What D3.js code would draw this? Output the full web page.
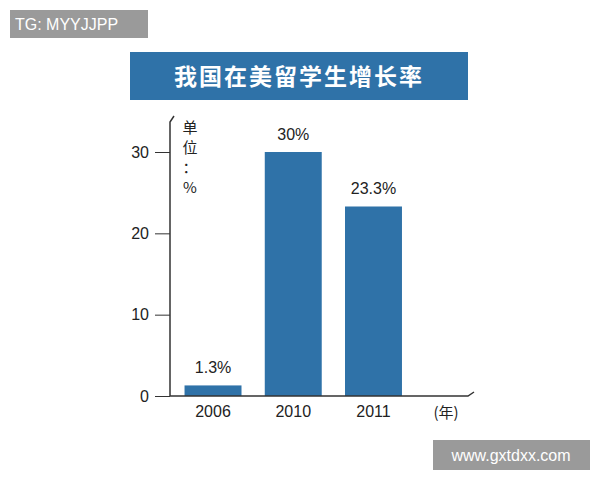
<!DOCTYPE html>
<html>
<head>
<meta charset="utf-8">
<script src="https://cdn.jsdelivr.net/npm/d3@7"></script>
<style>
body{margin:0;background:#fff;}
text{font-family:"Liberation Sans",Arial,sans-serif;}
</style>
</head>
<body>
<svg id="chart" width="600" height="480"></svg>
<script>
// data
const years = ['2006', '2010', '2011'];
const rates = [1.3, 30, 23.3];
const rateLabels = ['1.3%', '30%', '23.3%'];
const yTicks = [0, 10, 20, 30];

const svg = d3.select('#chart');
const blue = '#2f72a8';

// watermark boxes
svg.append('rect').attr('x', 10).attr('y', 10).attr('width', 138).attr('height', 28).attr('fill', '#9a9a9a');
svg.append('text').attr('x', 15).attr('y', 30).attr('fill', '#fff').attr('font-size', 16).text('TG: MYYJJPP');
svg.append('rect').attr('x', 433).attr('y', 440).attr('width', 157).attr('height', 30).attr('fill', '#9a9a9a');
svg.append('text').attr('x', 511).attr('y', 461).attr('text-anchor', 'middle').attr('fill', '#fff').attr('font-size', 16).text('www.gxtdxx.com');

// title banner
svg.append('rect').attr('x', 130).attr('y', 52).attr('width', 338).attr('height', 48).attr('fill', blue);
svg.append('text').attr('x', 299).attr('y', 85).attr('text-anchor', 'middle').attr('fill', '#fff')
    .attr('font-size', 23).attr('font-weight', 'bold').style('font-family', '"Noto Sans CJK SC"')
    .attr('letter-spacing', 2).text('我国在美留学生增长率');

let x = d3.scaleBand().domain(years).range([172.5, 414]).paddingInner(0.29).paddingOuter(0.15);
let y = d3.scaleLinear().domain([0, 30]).range([396, 152]);

// bars
svg.selectAll('.bar').data(years).enter().append('rect')
    .attr('x', d => x(d)).attr('width', x.bandwidth())
    .attr('y', (d, i) => y(rates[i])).attr('height', (d, i) => y(0) - y(rates[i]))
    .attr('fill', blue);

svg.selectAll('.val').data(years).enter().append('text')
    .attr('x', d => x(d) + x.bandwidth() / 2).attr('y', (d, i) => y(rates[i]) - 12)
    .attr('text-anchor', 'middle').attr('font-size', 16).attr('fill', '#222')
    .text((d, i) => rateLabels[i]);

// y axis
let yAxis = svg.append('g').attr('transform', 'translate(170,0)')
    .call(d3.axisLeft(y).tickValues(yTicks).tickSize(15).tickPadding(6));
yAxis.select('.domain').remove();
yAxis.selectAll('text').attr('font-size', 16).attr('fill', '#222');
yAxis.selectAll('line').attr('stroke', '#333');
svg.append('path').attr('d', 'M170,396V122l4,-6').attr('fill', 'none').attr('stroke', '#333').attr('stroke-width', 1.5);

// x axis
let xAxis = svg.append('g').attr('transform', 'translate(0,396)')
    .call(d3.axisBottom(x).tickSize(0).tickPadding(10));
xAxis.select('.domain').remove();
xAxis.selectAll('text').attr('font-size', 16).attr('fill', '#222');
svg.append('path').attr('d', 'M170,396H468l6,-4').attr('fill', 'none').attr('stroke', '#333').attr('stroke-width', 1.5);
svg.append('text').attr('x', 446).attr('y', 418).attr('text-anchor', 'middle').attr('font-size', 15)
    .attr('fill', '#222').style('font-family', '"Noto Sans CJK SC"').text('(年)');

// unit label, vertical
const unit = ['单', '位', '：', '%'];
svg.selectAll('.unit').data(unit).enter().append('text')
    .attr('x', 190).attr('y', (d, i) => 133 + i * 20)
    .attr('text-anchor', 'middle').attr('font-size', 15).attr('fill', '#222')
    .style('font-family', '"Noto Sans CJK SC"').text(d => d);
</script>
</body>
</html>
